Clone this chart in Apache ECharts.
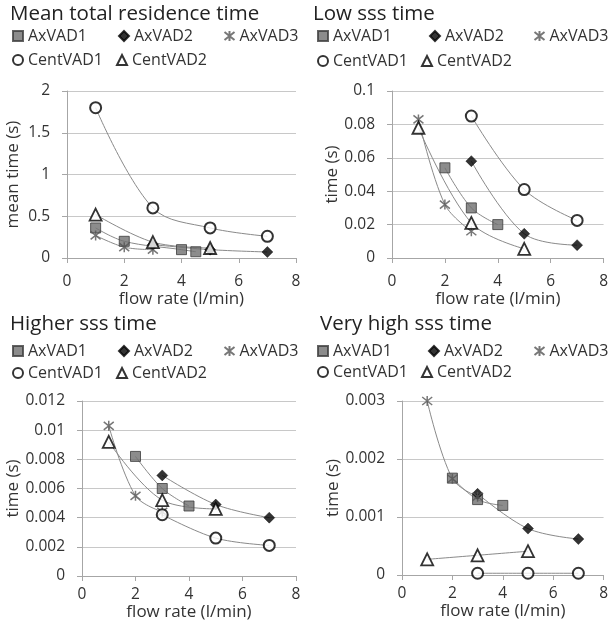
<!DOCTYPE html>
<html>
<head>
<meta charset="utf-8">
<script src="https://cdn.jsdelivr.net/npm/echarts@6/dist/echarts.min.js"></script>
<style>
  html, body { margin: 0; padding: 0; background: #fff; }
  #main { width: 611px; height: 625px; }
</style>
</head>
<body>
<div id="main"></div>
<script>
// series names, same in every panel
const seriesNames = ['AxVAD1', 'AxVAD2', 'AxVAD3', 'CentVAD1', 'CentVAD2'];

// panel texts and y scales
const panelTitles = ['Mean total residence time', 'Low sss time', 'Higher sss time', 'Very high sss time'];
const yAxisNames = ['mean time (s)', 'time (s)', 'time (s)', 'time (s)'];
const yMaxes = [2, 0.1, 0.012, 0.003];
const ySteps = [0.5, 0.02, 0.002, 0.001];
const xName = 'flow rate (l/min)';
const xMin = 0, xMax = 8, xStep = 2;

// [flow rate, time]
const meanAxVAD1 = [[1, 0.36], [2, 0.2], [4, 0.1], [4.5, 0.075]];
const meanAxVAD2 = [[3, 0.16], [5, 0.1], [7, 0.072]];
const meanAxVAD3 = [[1, 0.27], [2, 0.13], [3, 0.1]];
const meanCentVAD1 = [[1, 1.8], [3, 0.6], [5, 0.36], [7, 0.26]];
const meanCentVAD2 = [[1, 0.52], [3, 0.19], [5, 0.12]];

const lowAxVAD1 = [[2, 0.054], [3, 0.03], [4, 0.02]];
const lowAxVAD2 = [[3, 0.058], [5, 0.0145], [7, 0.0077]];
const lowAxVAD3 = [[1, 0.083], [2, 0.032], [3, 0.016]];
const lowCentVAD1 = [[3, 0.085], [5, 0.041], [7, 0.0225]];
const lowCentVAD2 = [[1, 0.078], [3, 0.021], [5, 0.0055]];

const higherAxVAD1 = [[2, 0.0082], [3, 0.006], [4, 0.0048]];
const higherAxVAD2 = [[3, 0.0069], [5, 0.0049], [7, 0.004]];
const higherAxVAD3 = [[1, 0.0103], [2, 0.0055], [3, 0.0044]];
const higherCentVAD1 = [[3, 0.0042], [5, 0.0026], [7, 0.0021]];
const higherCentVAD2 = [[1, 0.0092], [3, 0.0052], [5, 0.0046]];

const veryHighAxVAD1 = [[2, 0.00167], [3, 0.0013], [4, 0.0012]];
const veryHighAxVAD2 = [[3, 0.0014], [5, 0.0008], [7, 0.00062]];
const veryHighAxVAD3 = [[1, 0.003], [2, 0.00166], [3, 0.00135]];
const veryHighCentVAD1 = [[3, 0.00003], [5, 0.00003], [7, 0.00003]];
const veryHighCentVAD2 = [[1, 0.00027], [3, 0.00034], [5, 0.00041]];

const panelData = [
  [meanAxVAD1, meanAxVAD2, meanAxVAD3, meanCentVAD1, meanCentVAD2],
  [lowAxVAD1, lowAxVAD2, lowAxVAD3, lowCentVAD1, lowCentVAD2],
  [higherAxVAD1, higherAxVAD2, higherAxVAD3, higherCentVAD1, higherCentVAD2],
  [veryHighAxVAD1, veryHighAxVAD2, veryHighAxVAD3, veryHighCentVAD1, veryHighCentVAD2]
];

// layout of each panel (pixels)
const layout = [
  { grid: [67, 91, 229, 167], title: [10, 4], rows: [28, 52], icons: [12, 118, 222, 12, 116], yGap: 45, xGap: 29, xMargin: 16 },
  { grid: [392, 91, 215, 167], title: [313, 4], rows: [28, 53], icons: [317, 429, 532, 317, 421], yGap: 50, xGap: 29, xMargin: 16 },
  { grid: [82, 401, 214, 175], title: [10, 314], rows: [343, 365], icons: [12, 118, 222, 12, 116], yGap: 52, xGap: 16, xMargin: 11 },
  { grid: [402, 401, 205, 174], title: [320, 314], rows: [343, 364], icons: [317, 428, 532, 317, 421], yGap: 59, xGap: 16, xMargin: 11 }
];

const textColor = '#333';
const font = '"Open Sans", "Liberation Sans", sans-serif';

const symbolStyles = {
  AxVAD1: { symbol: 'rect', symbolSize: 10, itemStyle: { color: '#6f6f6f', borderColor: '#3c3c3c', borderWidth: 1 } },
  AxVAD2: { symbol: 'diamond', symbolSize: 11, itemStyle: { color: '#000', borderColor: '#000', borderWidth: 0.5 } },
  AxVAD3: { symbol: 'path://M5 0 L5 10 M0 1 L10 9 M10 1 L0 9', symbolSize: 10, itemStyle: { color: 'none', borderColor: '#555', borderWidth: 1.5 } },
  CentVAD1: { symbol: 'circle', symbolSize: 11, itemStyle: { color: '#fff', borderColor: '#000', borderWidth: 2 } },
  CentVAD2: { symbol: 'triangle', symbolSize: 12, itemStyle: { color: '#fff', borderColor: '#000', borderWidth: 1.8 } }
};

const option = {
  backgroundColor: '#fff',
  animation: false,
  textStyle: { fontFamily: font },
  title: [],
  legend: [],
  grid: [],
  xAxis: [],
  yAxis: [],
  series: []
};

layout.forEach((lay, p) => {
  const g = lay.grid;
  option.grid.push({ left: g[0], top: g[1], width: g[2], height: g[3], containLabel: false });

  option.title.push({
    text: panelTitles[p],
    left: lay.title[0],
    top: lay.title[1],
    padding: 0,
    textStyle: { fontFamily: font, fontSize: 20.5, fontWeight: 'normal', color: '#222' }
  });

  seriesNames.forEach((name, s) => {
    option.legend.push({
      data: [name],
      left: lay.icons[s],
      top: s < 3 ? lay.rows[0] : lay.rows[1],
      padding: 0,
      itemWidth: 10,
      itemHeight: 10,
      selectedMode: false,
      textStyle: { fontFamily: font, fontSize: 16, color: textColor }
    });
  });

  option.xAxis.push({
    type: 'value',
    gridIndex: p,
    min: xMin,
    max: xMax,
    interval: xStep,
    name: xName,
    nameLocation: 'middle',
    nameGap: lay.xGap,
    nameTextStyle: { fontFamily: font, fontSize: 17, color: textColor },
    axisLine: { show: true, lineStyle: { color: '#a6a6a6' } },
    axisTick: { show: true, length: 5, lineStyle: { color: '#a6a6a6' } },
    axisLabel: { fontFamily: font, fontSize: 15.5, color: textColor, margin: lay.xMargin },
    splitLine: { show: false }
  });

  option.yAxis.push({
    type: 'value',
    gridIndex: p,
    min: 0,
    max: yMaxes[p],
    interval: ySteps[p],
    name: yAxisNames[p],
    nameLocation: 'middle',
    nameGap: lay.yGap,
    nameTextStyle: { fontFamily: font, fontSize: 17, color: textColor },
    axisLine: { show: true, lineStyle: { color: '#a6a6a6' } },
    axisTick: { show: true, length: 5, lineStyle: { color: '#a6a6a6' } },
    axisLabel: { fontFamily: font, fontSize: 15.5, color: textColor, margin: 17 },
    splitLine: { show: true, lineStyle: { color: '#c8c8c8', width: 1 } }
  });

  panelData[p].forEach((points, s) => {
    const name = seriesNames[s];
    // fitted curve through the points
    option.series.push({
      name: name + ' fit',
      type: 'line',
      xAxisIndex: p,
      yAxisIndex: p,
      data: points,
      smooth: 0.35,
      showSymbol: false,
      silent: true,
      z: 1,
      lineStyle: { color: '#8a8a8a', width: 1 }
    });
    // markers
    const st = symbolStyles[name];
    option.series.push({
      name: name,
      type: 'scatter',
      xAxisIndex: p,
      yAxisIndex: p,
      data: points,
      symbol: st.symbol,
      symbolSize: st.symbolSize,
      itemStyle: st.itemStyle,
      z: 3
    });
  });
});

const chart = echarts.init(document.getElementById('main'), null, { renderer: 'canvas' });
chart.setOption(option);
</script>
</body>
</html>
